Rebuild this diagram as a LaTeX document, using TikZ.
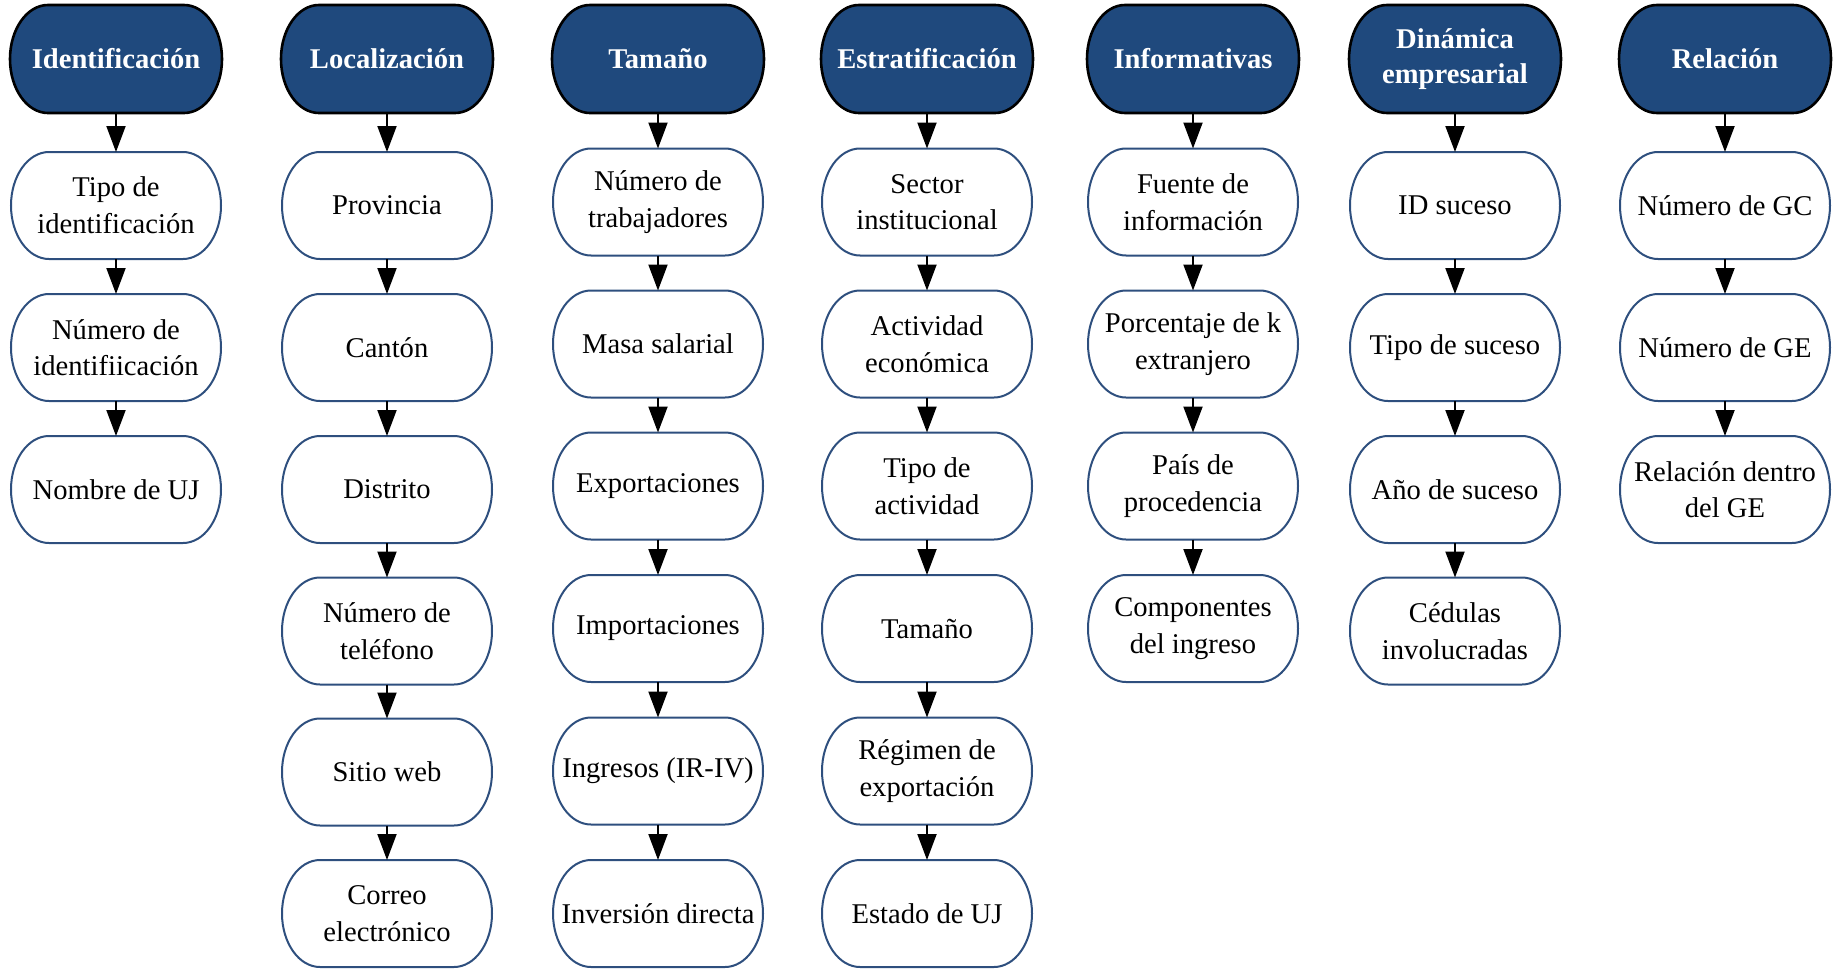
\documentclass[tikz,border=0pt]{standalone}
\usepackage{fontspec}
\setmainfont{Liberation Serif}
\usetikzlibrary{arrows.meta,backgrounds}
\definecolor{hdrblue}{HTML}{1F497D}
\definecolor{boxblue}{HTML}{2E4F7E}
\newcommand\mycapsule[4]{% style, node, rx, ry
  \path[#1] ([xshift=#3]#2.north west) -- ([xshift=-#3]#2.north east)
    arc[start angle=90,end angle=-90,x radius=#3,y radius=#4]
    -- ([xshift=#3]#2.south west)
    arc[start angle=270,end angle=90,x radius=#3,y radius=#4] -- cycle;}
\begin{document}
\begin{tikzpicture}[x=0.5pt,y=-0.5pt,
  hdr/.style={text=white, font=\fontsize{14.3}{17.5}\selectfont\bfseries,
    minimum width=106pt, minimum height=54pt, inner sep=0pt, outer sep=0pt, align=center},
  itm/.style={text=black, font=\fontsize{14.3}{18.3}\selectfont,
    minimum width=105pt, minimum height=53.5pt, inner sep=0pt, outer sep=0pt, align=center},
  hdrshape/.style={draw=black, line width=1.3pt, fill=hdrblue},
  itmshape/.style={draw=boxblue, line width=1pt},
  arr/.style={line width=1pt, -{Triangle[length=13pt,width=9.5pt]}}]
\useasboundingbox (0,0) rectangle (1837,969);
% headers
\node[hdr] (h1) at (116,59) {Identificación};
\node[hdr] (h2) at (387,59) {Localización};
\node[hdr] (h3) at (658,59) {Tamaño};
\node[hdr] (h4) at (927,59) {Estratificación};
\node[hdr] (h5) at (1193,59) {Informativas};
\node[hdr] (h6) at (1455,59) {Dinámica\\empresarial};
\node[hdr] (h7) at (1725,59) {Relación};
\begin{pgfonlayer}{background}
\foreach \n in {h1,h2,h3,h4,h5,h6,h7}
  {\mycapsule{hdrshape}{\n}{19pt}{27pt}}
\end{pgfonlayer}
% column 1
\node[itm] (c1r1) at (116,205.5) {Tipo de\\identificación};
\node[itm] (c1r2) at (116,347.5) {Número de\\identifiicación};
\node[itm] (c1r3) at (116,489.5) {Nombre de UJ};
% column 2
\node[itm] (c2r1) at (387,205.5) {Provincia};
\node[itm] (c2r2) at (387,347.5) {Cantón};
\node[itm] (c2r3) at (387,489.5) {Distrito};
\node[itm] (c2r4) at (387,631) {Número de\\teléfono};
\node[itm] (c2r5) at (387,772) {Sitio web};
\node[itm] (c2r6) at (387,913.5) {Correo\\electrónico};
% column 3
\node[itm] (c3r1) at (658,202) {Número de\\trabajadores};
\node[itm] (c3r2) at (658,344) {Masa salarial};
\node[itm] (c3r3) at (658,486) {Exportaciones};
\node[itm] (c3r4) at (658,628.5) {Importaciones};
\node[itm] (c3r5) at (658,771) {Ingresos (IR-IV)};
\node[itm] (c3r6) at (658,913.5) {Inversión directa};
% column 4
\node[itm] (c4r1) at (927,202) {Sector\\institucional};
\node[itm] (c4r2) at (927,344) {Actividad\\económica};
\node[itm] (c4r3) at (927,486) {Tipo de\\actividad};
\node[itm] (c4r4) at (927,628.5) {Tamaño};
\node[itm] (c4r5) at (927,771) {Régimen de\\exportación};
\node[itm] (c4r6) at (927,913.5) {Estado de UJ};
% column 5
\node[itm] (c5r1) at (1193,202) {Fuente de\\información};
\node[itm] (c5r2) at (1193,344) {Porcentaje de k\\extranjero};
\node[itm] (c5r3) at (1193,486) {País de\\procedencia};
\node[itm] (c5r4) at (1193,628.5) {Componentes\\del ingreso};
% column 6
\node[itm] (c6r1) at (1455,205.5) {ID suceso};
\node[itm] (c6r2) at (1455,347.5) {Tipo de suceso};
\node[itm] (c6r3) at (1455,489.5) {Año de suceso};
\node[itm] (c6r4) at (1455,631) {Cédulas\\involucradas};
% column 7
\node[itm] (c7r1) at (1725,205.5) {Número de GC};
\node[itm] (c7r2) at (1725,347.5) {Número de GE};
\node[itm] (c7r3) at (1725,489.5) {Relación dentro\\del GE};
% item outlines
\foreach \n in {c1r1,c1r2,c1r3,c2r1,c2r2,c2r3,c2r4,c2r5,c2r6,
  c3r1,c3r2,c3r3,c3r4,c3r5,c3r6,c4r1,c4r2,c4r3,c4r4,c4r5,c4r6,
  c5r1,c5r2,c5r3,c5r4,c6r1,c6r2,c6r3,c6r4,c7r1,c7r2,c7r3}
  {\mycapsule{itmshape}{\n}{19pt}{26.75pt}}
% arrows
\foreach \a/\b in {h1/c1r1,c1r1/c1r2,c1r2/c1r3,
  h2/c2r1,c2r1/c2r2,c2r2/c2r3,c2r3/c2r4,c2r4/c2r5,c2r5/c2r6,
  h3/c3r1,c3r1/c3r2,c3r2/c3r3,c3r3/c3r4,c3r4/c3r5,c3r5/c3r6,
  h4/c4r1,c4r1/c4r2,c4r2/c4r3,c4r3/c4r4,c4r4/c4r5,c4r5/c4r6,
  h5/c5r1,c5r1/c5r2,c5r2/c5r3,c5r3/c5r4,
  h6/c6r1,c6r1/c6r2,c6r2/c6r3,c6r3/c6r4,
  h7/c7r1,c7r1/c7r2,c7r2/c7r3}
  \draw[arr] (\a.south) -- (\b.north);
\end{tikzpicture}
\end{document}
